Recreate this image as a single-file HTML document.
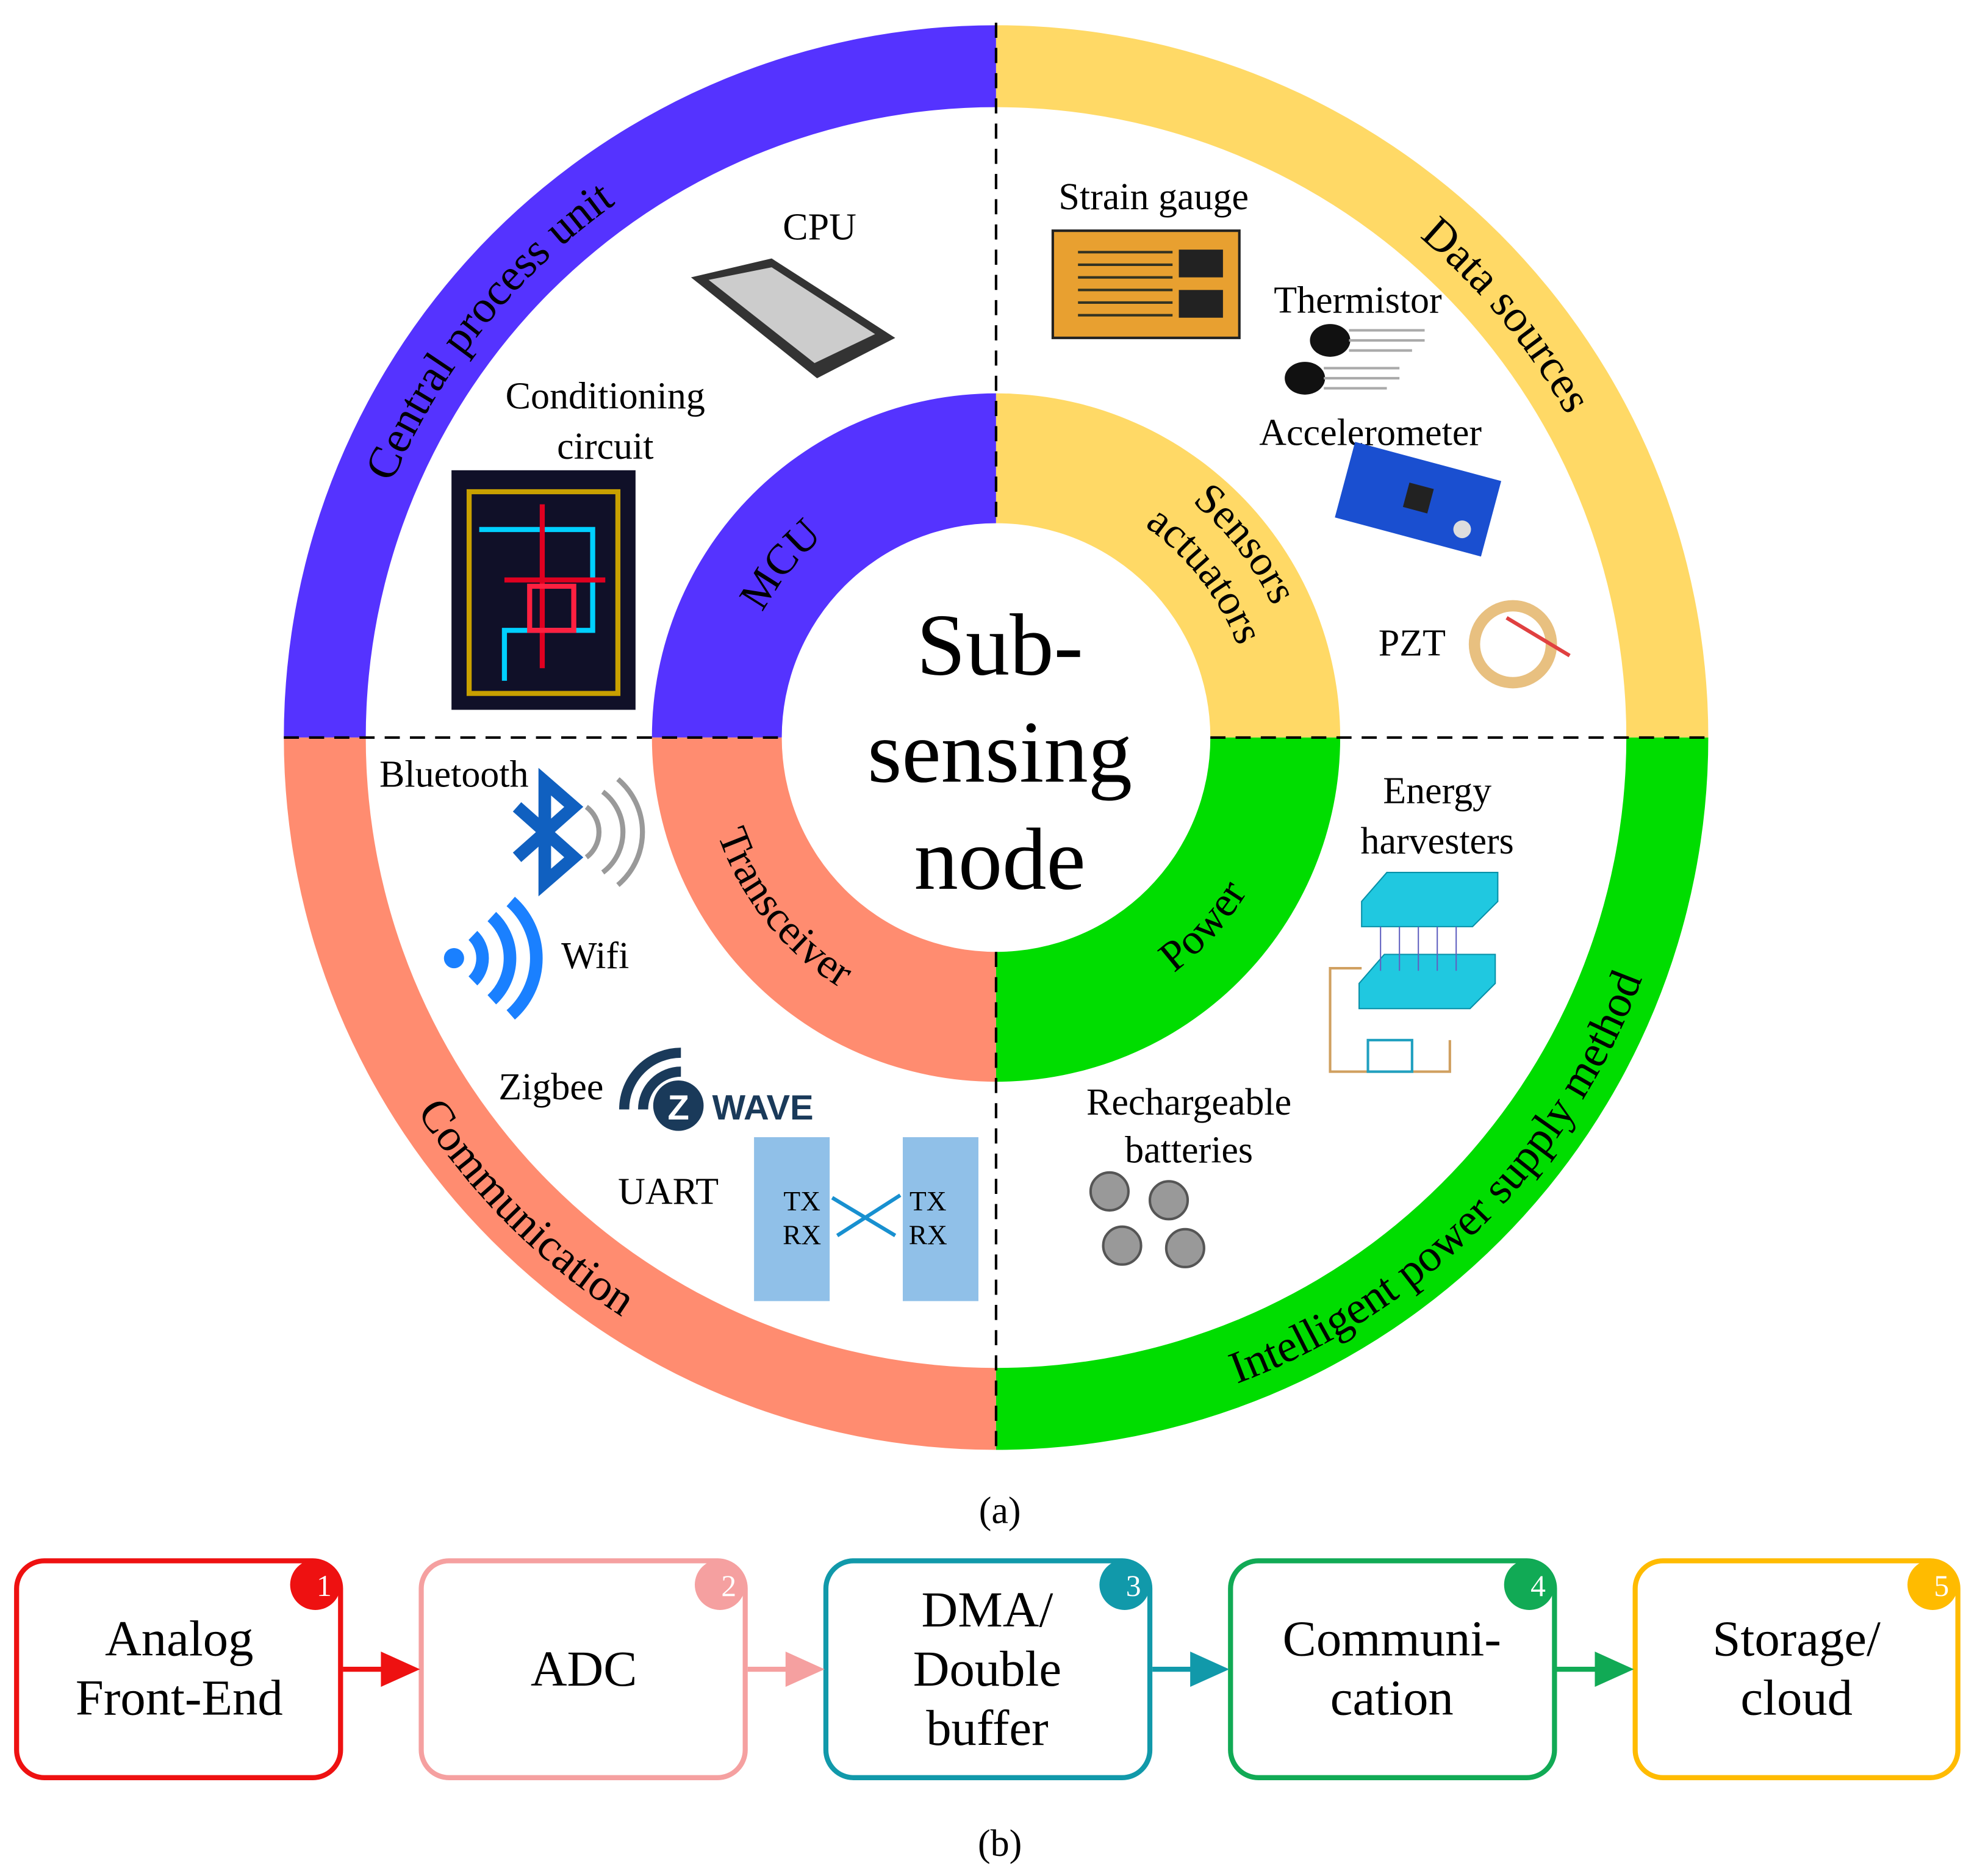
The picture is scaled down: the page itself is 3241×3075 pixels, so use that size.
<!DOCTYPE html>
<html><head><meta charset="utf-8"><style>
html,body{margin:0;padding:0;background:#fff}
svg{display:block}
text{font-family:"Liberation Serif",serif;fill:#000}
</style></head><body>
<svg width="3241" height="3075" viewBox="0 0 1568 1488" xmlns="http://www.w3.org/2000/svg">
<defs>
<path id="pTL" d="M 270 585 A 520 520 0 0 1 790 65"/>
<path id="pTR" d="M 790 65 A 520 520 0 0 1 1310 585"/>
<path id="pBL" d="M 243 585 A 547 547 0 0 0 790 1132"/>
<path id="pBR" d="M 790 1132 A 547 547 0 0 0 1337 585"/>
<path id="iTL" d="M 580 585 A 210 210 0 0 1 790 375"/>
<path id="iTR1" d="M 790 342 A 243 243 0 0 1 1033 585"/>
<path id="iTR2" d="M 790 380 A 205 205 0 0 1 995 585"/>
<path id="iBL" d="M 556 585 A 234 234 0 0 0 790 819"/>
<path id="iBR" d="M 790 819 A 234 234 0 0 0 1024 585"/>
</defs>
<path d="M 225 585 A 565 565 0 0 1 790 20 L 790 85 A 500 500 0 0 0 290 585 Z" fill="#5533ff"/>
<path d="M 790 20 A 565 565 0 0 1 1355 585 L 1290 585 A 500 500 0 0 0 790 85 Z" fill="#ffd966"/>
<path d="M 225 585 A 565 565 0 0 0 790 1150 L 790 1085 A 500 500 0 0 1 290 585 Z" fill="#ff8c70"/>
<path d="M 790 1150 A 565 565 0 0 0 1355 585 L 1290 585 A 500 500 0 0 1 790 1085 Z" fill="#00dd00"/>
<path d="M 517 585 A 273 273 0 0 1 790 312 L 790 415 A 170 170 0 0 0 620 585 Z" fill="#5533ff"/>
<path d="M 790 312 A 273 273 0 0 1 1063 585 L 960 585 A 170 170 0 0 0 790 415 Z" fill="#ffd966"/>
<path d="M 517 585 A 273 273 0 0 0 790 858 L 790 755 A 170 170 0 0 1 620 585 Z" fill="#ff8c70"/>
<path d="M 790 858 A 273 273 0 0 0 1063 585 L 960 585 A 170 170 0 0 1 790 755 Z" fill="#00dd00"/>
<g stroke="#000" stroke-width="2" stroke-dasharray="12,8">
<line x1="790" y1="18" x2="790" y2="415"/><line x1="790" y1="755" x2="790" y2="1152"/>
<line x1="225" y1="585" x2="620" y2="585"/><line x1="960" y1="585" x2="1357" y2="585"/>
</g>
<text font-size="36"><textPath href="#pTL" startOffset="43%" text-anchor="middle">Central process unit</textPath></text>
<text font-size="36"><textPath href="#pTR" startOffset="56%" text-anchor="middle">Data sources</textPath></text>
<text font-size="36"><textPath href="#pBL" startOffset="50%" text-anchor="middle">Communication</textPath></text>
<text font-size="36"><textPath href="#pBR" startOffset="50%" text-anchor="middle">Intelligent power supply method</textPath></text>
<text font-size="34"><textPath href="#iTL" startOffset="43%" text-anchor="middle">MCU</textPath></text>
<text font-size="34"><textPath href="#iTR1" startOffset="58%" text-anchor="middle">Sensors</textPath></text>
<text font-size="34"><textPath href="#iTR2" startOffset="58%" text-anchor="middle">actuators</textPath></text>
<text font-size="34"><textPath href="#iBL" startOffset="43%" text-anchor="middle">Transceiver</textPath></text>
<text font-size="34"><textPath href="#iBR" startOffset="53%" text-anchor="middle">Power</textPath></text>
<text x="793" y="535" font-size="70" text-anchor="middle" font-weight="bold" style="font-weight:500">Sub-</text>
<text x="793" y="620" font-size="70" text-anchor="middle">sensing</text>
<text x="793" y="705" font-size="70" text-anchor="middle">node</text>
<text x="650" y="190" font-size="30" text-anchor="middle">CPU</text>
<polygon points="548,220 612,205 710,268 648,300" fill="#333"/>
<polygon points="562,222 612,212 694,265 646,288" fill="#ccc"/>
<text x="480" y="324" font-size="30" text-anchor="middle">Conditioning</text>
<text x="480" y="364" font-size="30" text-anchor="middle">circuit</text>
<rect x="358" y="373" width="146" height="190" fill="#101028"/>
<g fill="none" stroke-width="4"><path d="M372 390 H490 V550 H372 Z" stroke="#c8a000"/><path d="M380 420 H470 V500 H400 V540" stroke="#00d0ff"/><path d="M400 460 H480 M430 400 V530" stroke="#e00020"/><rect x="420" y="465" width="35" height="35" stroke="#ff2040"/></g>
<text x="915" y="166" font-size="30" text-anchor="middle">Strain gauge</text>
<rect x="835" y="183" width="148" height="85" fill="#e8a030" stroke="#222" stroke-width="2"/>
<g stroke="#332" stroke-width="2"><path d="M855 200 H930 M855 210 H930 M855 220 H930 M855 230 H930 M855 240 H930 M855 250 H930"/></g>
<rect x="935" y="198" width="35" height="22" fill="#222"/><rect x="935" y="230" width="35" height="22" fill="#222"/>
<text x="1077" y="248" font-size="30" text-anchor="middle">Thermistor</text>
<ellipse cx="1055" cy="270" rx="16" ry="13" fill="#111"/><ellipse cx="1035" cy="300" rx="16" ry="13" fill="#111"/>
<g stroke="#aaa" stroke-width="2"><path d="M1070 262 H1130 M1070 270 H1130 M1070 278 H1120 M1050 292 H1110 M1050 300 H1110 M1050 308 H1100"/></g>
<text x="1087" y="353" font-size="30" text-anchor="middle">Accelerometer</text>
<g transform="translate(1125,395) rotate(15)"><rect x="-60" y="-30" width="120" height="62" fill="#1a4fd0"/><rect x="-10" y="-10" width="20" height="20" fill="#222"/><circle cx="40" cy="15" r="7" fill="#ddd"/></g>
<text x="1120" y="520" font-size="30" text-anchor="middle">PZT</text>
<circle cx="1200" cy="511" r="35" fill="#e8c080"/><circle cx="1200" cy="511" r="26" fill="#fff"/>
<path d="M1195 490 L1245 520" stroke="#e04040" stroke-width="3"/>
<text x="360" y="624" font-size="30" text-anchor="middle">Bluetooth</text>
<path d="M410 640 L455 680 L432 700 L432 620 L455 640 L410 680" fill="none" stroke="#1060c0" stroke-width="10"/>
<g fill="none" stroke="#999" stroke-width="4"><path d="M465 640 A25 25 0 0 1 465 680"/><path d="M478 628 A40 40 0 0 1 478 692"/><path d="M490 618 A55 55 0 0 1 490 702"/></g>
<circle cx="360" cy="760" r="8" fill="#1a80ff"/>
<g fill="none" stroke="#1a80ff" stroke-width="10"><path d="M375 742 A25 25 0 0 1 375 778"/><path d="M390 727 A45 45 0 0 1 390 793"/><path d="M405 715 A60 60 0 0 1 405 805"/></g>
<text x="472" y="768" font-size="30" text-anchor="middle">Wifi</text>
<text x="437" y="872" font-size="30" text-anchor="middle">Zigbee</text>
<g fill="none" stroke="#1a3a5a" stroke-width="8"><path d="M495 880 A45 45 0 0 1 540 835"/><path d="M510 880 A30 30 0 0 1 540 850"/></g>
<circle cx="538" cy="877" r="20" fill="#1a3a5a"/><text x="538" y="888" font-size="28" font-weight="bold" text-anchor="middle" style="fill:#fff;font-family:'Liberation Sans',sans-serif">Z</text>
<text x="605" y="888" font-size="28" font-weight="bold" text-anchor="middle" style="fill:#1a3a5a;font-family:'Liberation Sans',sans-serif">WAVE</text>
<text x="530" y="955" font-size="30" text-anchor="middle">UART</text>
<rect x="598" y="902" width="60" height="130" fill="#90c0e8"/><rect x="716" y="902" width="60" height="130" fill="#90c0e8"/>
<text x="636" y="960" font-size="22" text-anchor="middle">TX</text><text x="636" y="987" font-size="22" text-anchor="middle">RX</text>
<text x="736" y="960" font-size="22" text-anchor="middle">TX</text><text x="736" y="987" font-size="22" text-anchor="middle">RX</text>
<path d="M660 950 L710 980 M714 948 L664 980" stroke="#1890d0" stroke-width="3"/>
<text x="1140" y="637" font-size="30" text-anchor="middle">Energy</text>
<text x="1140" y="677" font-size="30" text-anchor="middle">harvesters</text>
<path d="M1080 715 L1100 692 H1188 V715 L1168 735 H1080 Z" fill="#20c8e0" stroke="#0890a8"/>
<path d="M1078 780 L1098 757 H1186 V780 L1166 800 H1078 Z" fill="#20c8e0" stroke="#0890a8"/>
<g stroke="#6060c0" stroke-width="1"><path d="M1095 735 V770 M1110 735 V770 M1125 735 V770 M1140 735 V770 M1155 735 V770"/></g>
<path d="M1080 768 H1055 V850 H1150 V825" fill="none" stroke="#d0a060" stroke-width="2"/>
<rect x="1085" y="825" width="35" height="25" fill="#fff" stroke="#20a0c0" stroke-width="2"/>
<text x="943" y="884" font-size="30" text-anchor="middle">Rechargeable</text>
<text x="943" y="922" font-size="30" text-anchor="middle">batteries</text>
<g fill="#999" stroke="#555" stroke-width="2"><circle cx="880" cy="945" r="15"/><circle cx="927" cy="952" r="15"/><circle cx="890" cy="988" r="15"/><circle cx="940" cy="990" r="15"/></g>
<text x="793" y="1208" font-size="30" text-anchor="middle">(a)</text>
<g fill="#fff" stroke-width="4">
<rect x="13" y="1238" width="257" height="172" rx="22" stroke="#ee1111"/>
<rect x="334" y="1238" width="257" height="172" rx="22" stroke="#f5a0a0"/>
<rect x="655" y="1238" width="257" height="172" rx="22" stroke="#1199aa"/>
<rect x="976" y="1238" width="257" height="172" rx="22" stroke="#11aa55"/>
<rect x="1297" y="1238" width="256" height="172" rx="22" stroke="#ffbb00"/>
</g>
<g stroke-width="4">
<line x1="272" y1="1324" x2="305" y2="1324" stroke="#ee1111"/><path d="M302 1310 L333 1324 L302 1338 Z" fill="#ee1111"/>
<line x1="593" y1="1324" x2="626" y2="1324" stroke="#f5a0a0"/><path d="M623 1310 L654 1324 L623 1338 Z" fill="#f5a0a0"/>
<line x1="914" y1="1324" x2="947" y2="1324" stroke="#1199aa"/><path d="M944 1310 L975 1324 L944 1338 Z" fill="#1199aa"/>
<line x1="1235" y1="1324" x2="1268" y2="1324" stroke="#11aa55"/><path d="M1265 1310 L1296 1324 L1265 1338 Z" fill="#11aa55"/>
</g>
<circle cx="250" cy="1257" r="20" fill="#ee1111"/><circle cx="571" cy="1257" r="20" fill="#f5a0a0"/><circle cx="892" cy="1257" r="20" fill="#1199aa"/><circle cx="1213" cy="1257" r="20" fill="#11aa55"/><circle cx="1533" cy="1257" r="20" fill="#ffbb00"/>
<g font-size="24" text-anchor="middle"><text x="257" y="1266" style="fill:#fff">1</text><text x="578" y="1266" style="fill:#fff">2</text><text x="899" y="1266" style="fill:#fff">3</text><text x="1220" y="1266" style="fill:#fff">4</text><text x="1540" y="1266" style="fill:#fff">5</text></g>
<g font-size="40" text-anchor="middle">
<text x="142" y="1313">Analog</text><text x="142" y="1360">Front-End</text>
<text x="463" y="1337">ADC</text>
<text x="783" y="1290">DMA/</text><text x="783" y="1337">Double</text><text x="783" y="1384">buffer</text>
<text x="1104" y="1313">Communi-</text><text x="1104" y="1360">cation</text>
<text x="1425" y="1313">Storage/</text><text x="1425" y="1360">cloud</text>
</g>
<text x="793" y="1472" font-size="30" text-anchor="middle">(b)</text>
</svg>
</body></html>
